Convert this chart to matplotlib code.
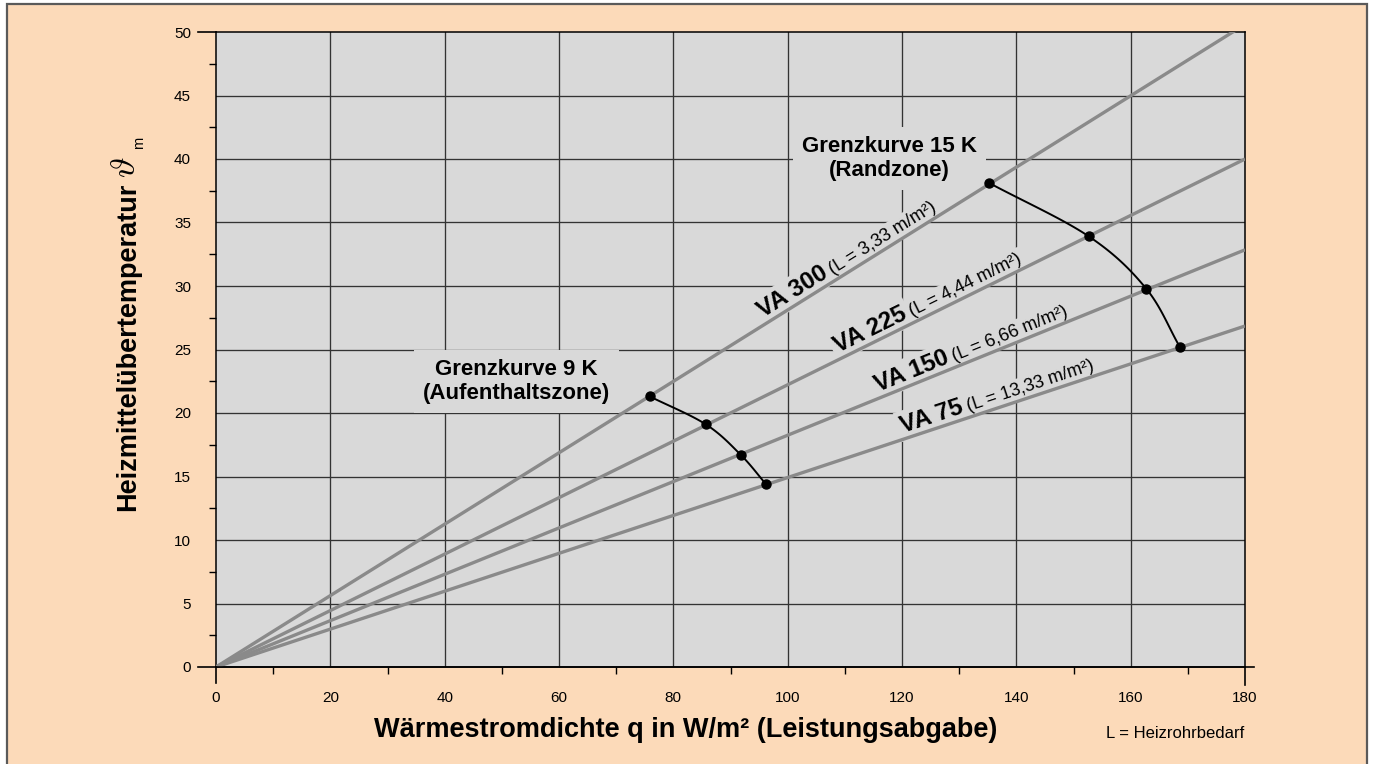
import numpy as np
import matplotlib
matplotlib.use("Agg")
import matplotlib.pyplot as plt
from matplotlib.patches import Rectangle
from matplotlib.transforms import offset_copy

plt.rcParams["font.family"] = ["Liberation Sans", "DejaVu Sans"]
plt.rcParams["mathtext.fontset"] = "cm"

# --- data -------------------------------------------------------------
q_max = 180
series_names = ["VA 300", "VA 225", "VA 150", "VA 75"]
pipe_lengths = ["3,33", "4,44", "6,66", "13,33"]
theta_at_q_max = [50.6, 40.0, 32.85, 26.85]   # excess temperature at q = 180 W/m²
label_q = [108.0, 121.8, 129.1, 131.5]        # where each series label sits

limit_15k_q = [135.3, 152.7, 162.7, 168.6]
limit_15k_theta = [38.1, 33.9, 29.8, 25.2]
limit_9k_q = [75.9, 85.7, 91.8, 96.2]
limit_9k_theta = [21.3, 19.1, 16.7, 14.4]

x_ticks = list(range(0, 181, 20))
y_ticks = list(range(0, 51, 5))

PEACH = "#FCDAB9"
PLOT_BG = "#D9D9D9"
LINE_GREY = "#8A8A8A"
GRID = "#333333"


def catmull_rom(xs, ys, n=24):
    """Smooth path through the given points (uniform Catmull-Rom)."""
    p = np.column_stack([xs, ys]).astype(float)
    p = np.vstack([2 * p[0] - p[1], p, 2 * p[-1] - p[-2]])
    out = []
    for i in range(1, len(p) - 2):
        p0, p1, p2, p3 = p[i - 1], p[i], p[i + 1], p[i + 2]
        t = np.linspace(0, 1, n)[:, None]
        seg = 0.5 * ((2 * p1) + (-p0 + p2) * t
                     + (2 * p0 - 5 * p1 + 4 * p2 - p3) * t ** 2
                     + (-p0 + 3 * p1 - 3 * p2 + p3) * t ** 3)
        out.append(seg if i == 1 else seg[1:])
    out = np.vstack(out)
    return out[:, 0], out[:, 1]


W, H = 1375, 764
fig = plt.figure(figsize=(W / 100, H / 100), dpi=100, facecolor="white")
fig.patches.append(Rectangle((7 / W, -0.02), 1360 / W, 1 - 4 / H + 0.02,
                             transform=fig.transFigure, facecolor=PEACH,
                             edgecolor="#5a5a5a", linewidth=1.6, zorder=-5))

ax = fig.add_axes([216 / W, 1 - 667 / H, 1029 / W, 635 / H])
ax.set_zorder(2)
ax.set_facecolor(PLOT_BG)
ax.set_xlim(0, 180)
ax.set_ylim(0, 50)

# grid
for xv in x_ticks[1:-1]:
    ax.axvline(xv, color=GRID, lw=0.95, zorder=1)
for yv in y_ticks[1:-1]:
    ax.axhline(yv, color=GRID, lw=0.95, zorder=1)

# ticks
ax.set_xticks(x_ticks)
ax.set_yticks(y_ticks)
ax.set_xticks(np.arange(10, 180, 20), minor=True)
ax.set_yticks(np.arange(2.5, 50, 5), minor=True)
ax.tick_params(axis="x", which="major", length=0, pad=17, labelsize=11, colors="black")
ax.tick_params(axis="y", which="major", length=0, pad=18, labelsize=11, colors="black")
ax.tick_params(which="minor", length=5, width=1.0, direction="out", color="black")
for s in ax.spines.values():
    s.set_color("black")
    s.set_linewidth(1.1)

# extended axis ticks at the corners
kw = dict(transform=ax.transAxes, clip_on=False, color="black", lw=1.2, zorder=6)
ax.plot([0, 0], [0, -16 / 635], **kw)
ax.plot([1, 1], [0, -18 / 635], **kw)
ax.plot([-18 / 1029, 1 + 9 / 1029], [0, 0], **kw)
ax.plot([-18 / 1029, 0], [1, 1], **kw)

# pipe spacing lines and their labels
for name, length, theta, lq in zip(series_names, pipe_lengths, theta_at_q_max, label_q):
    ax.plot([0, q_max], [0, theta], color=LINE_GREY, lw=2.4, zorder=3,
            solid_capstyle="butt")
    p0 = ax.transData.transform((0, 0))
    p1 = ax.transData.transform((q_max, theta))
    ang = np.arctan2(p1[1] - p0[1], p1[0] - p0[0])
    deg = np.degrees(ang)
    ly = theta / q_max * lq
    nx, ny = -np.sin(ang) * 4.5, np.cos(ang) * 4.5
    tb = offset_copy(ax.transData, fig, x=nx - np.cos(ang) * 1.0,
                     y=ny - np.sin(ang) * 1.0, units="points")
    tr = offset_copy(ax.transData, fig, x=nx + np.cos(ang) * 2.0,
                     y=ny + np.sin(ang) * 2.0, units="points")
    box = dict(boxstyle="square,pad=0.15", fc=PLOT_BG, ec="none")
    ax.text(lq, ly, name, transform=tb, rotation=deg, rotation_mode="anchor",
            ha="right", va="baseline", fontsize=17.5, fontweight="bold",
            bbox=box, zorder=2)
    ax.text(lq, ly, f"(L = {length} m/m²)", transform=tr, rotation=deg,
            rotation_mode="anchor", ha="left", va="baseline", fontsize=13,
            bbox=box, zorder=2)

# limit curves
for qs, ts in ((limit_15k_q, limit_15k_theta), (limit_9k_q, limit_9k_theta)):
    sx, sy = catmull_rom(qs, ts)
    ax.plot(sx, sy, color="black", lw=1.4, zorder=4)
    ax.plot(qs, ts, "o", color="black", ms=6.5, zorder=5)

gbox = dict(boxstyle="square,pad=0.4", fc=PLOT_BG, ec="none")
ax.text(117.8, 40.05, "Grenzkurve 15 K\n(Randzone)", ha="center", va="center",
        fontsize=16, fontweight="bold", linespacing=1.2, bbox=gbox, zorder=2)
ax.text(52.5, 22.5, "Grenzkurve 9 K\n(Aufenthaltszone)", ha="center", va="center",
        fontsize=16, fontweight="bold", linespacing=1.2, bbox=gbox, zorder=2)

# axis titles
fig.text(686 / W, 1 - 737 / H, "Wärmestromdichte q in W/m² (Leistungsabgabe)",
         ha="center", va="baseline", fontsize=19.5, fontweight="bold")
rot = dict(rotation=90, rotation_mode="anchor", va="baseline")
fig.text(135 / W, 1 - 183 / H, "Heizmittelübertemperatur", ha="right",
         fontsize=19.5, fontweight="bold", **rot)
fig.text(135 / W, 1 - 178 / H, r"$\vartheta$", ha="left", fontsize=25, **rot)
fig.text(143 / W, 1 - 149 / H, "m", ha="left", fontsize=10.5, **rot)
fig.text(1175.5 / W, 1 - 738 / H, "L = Heizrohrbedarf",
         ha="center", va="baseline", fontsize=12)

fig.savefig("out.png", dpi=100, facecolor=fig.get_facecolor())
